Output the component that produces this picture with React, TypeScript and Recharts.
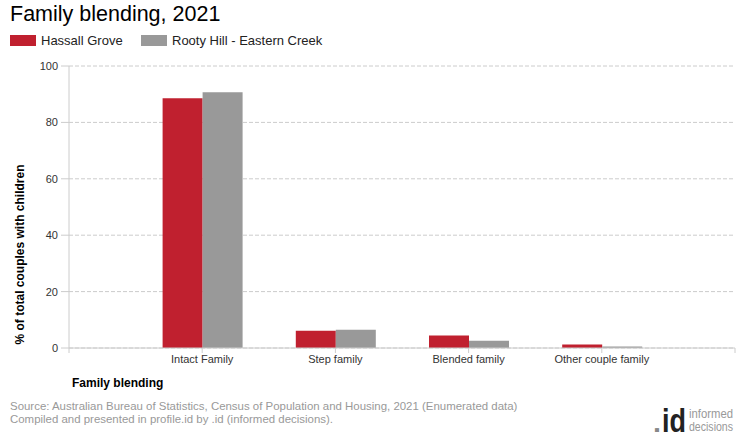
import React from "react";
import { BarChart, Bar, XAxis, YAxis, CartesianGrid } from "recharts";

const categories = ["Intact Family", "Step family", "Blended family", "Other couple family"];
const hassallGrove = [88.6, 6.1, 4.4, 1.2];
const rootyHill = [90.7, 6.5, 2.6, 0.5];
const yTicks = [0, 20, 40, 60, 80, 100];

const seriesNames = ["Hassall Grove", "Rooty Hill - Eastern Creek"];
const colors = ["#C0202F", "#999999"];

const data = categories.map((c, i) => ({
  x: i + 1,
  name: c,
  a: hassallGrove[i],
  b: rootyHill[i],
}));

const FONT = "Arial, 'Liberation Sans', sans-serif";

export default function App() {
  return (
    <div style={{ position: "absolute", left: 0, top: 0, width: 740, height: 440, background: "#fff", fontFamily: FONT }}>
      <BarChart
        width={740}
        height={440}
        data={data}
        margin={{ top: 66, right: 5, bottom: 62, left: 0 }}
        barGap={0}
      >
        <CartesianGrid vertical={false} stroke="#cccccc" strokeDasharray="4 2" />
        <XAxis
          type="number"
          dataKey="x"
          domain={[0, 5]}
          ticks={[0, 1, 2, 3, 4, 5]}
          allowDecimals={false}
          tickFormatter={(v: number) => (v >= 1 && v <= 4 ? categories[v - 1] : "")}
          height={30}
          stroke="#cccccc"
          tickSize={5}
          tickMargin={2}
          tick={{ fill: "#333", fontSize: 11, fontFamily: FONT }}
          interval={0}
        />
        <YAxis
          domain={[0, 100]}
          ticks={yTicks}
          width={69}
          stroke="#cccccc"
          tickSize={8}
          tickMargin={3}
          tick={{ fill: "#333", fontSize: 11, fontFamily: FONT }}
        />
        <Bar dataKey="a" name={seriesNames[0]} fill={colors[0]} barSize={40} isAnimationActive={false} />
        <Bar dataKey="b" name={seriesNames[1]} fill={colors[1]} barSize={40} isAnimationActive={false} />
      </BarChart>
      <svg
        width={740}
        height={440}
        style={{ position: "absolute", left: 0, top: 0, pointerEvents: "none", fontFamily: FONT }}
      >
        <text x={10} y={21} fontSize={21.5} fill="#000">Family blending, 2021</text>
        <rect x={10} y={35} width={26} height={11} fill={colors[0]} />
        <text x={41} y={45} fontSize={13} fill="#222">{seriesNames[0]}</text>
        <rect x={141} y={35} width={26} height={11} fill={colors[1]} />
        <text x={172} y={45} fontSize={13} fill="#222">{seriesNames[1]}</text>
        <text
          x={23.5}
          y={254.5}
          fontSize={12}
          fontWeight="bold"
          fill="#000"
          textAnchor="middle"
          transform="rotate(-90, 23.5, 254.5)"
        >
          % of total couples with children
        </text>
        <text x={72} y={387} fontSize={12} fontWeight="bold" fill="#000">Family blending</text>
        <text x={10} y={410} fontSize={11.45} fill="#999">
          Source: Australian Bureau of Statistics, Census of Population and Housing, 2021 (Enumerated data)
        </text>
        <text x={10} y={423} fontSize={11.45} fill="#999">
          Compiled and presented in profile.id by .id (informed decisions).
        </text>
        <text x={653} y={432} fontSize={26} fontWeight="bold" fill="#888" textLength={8} lengthAdjust="spacingAndGlyphs">.</text>
        <text x={662} y={432} fontSize={34} fontWeight="bold" fill="#222" textLength={24} lengthAdjust="spacingAndGlyphs">id</text>
        <text x={689} y={418} fontSize={12} fill="#999" textLength={44} lengthAdjust="spacingAndGlyphs">informed</text>
        <text x={689} y={431} fontSize={12} fill="#999" textLength={44} lengthAdjust="spacingAndGlyphs">decisions</text>
      </svg>
    </div>
  );
}
